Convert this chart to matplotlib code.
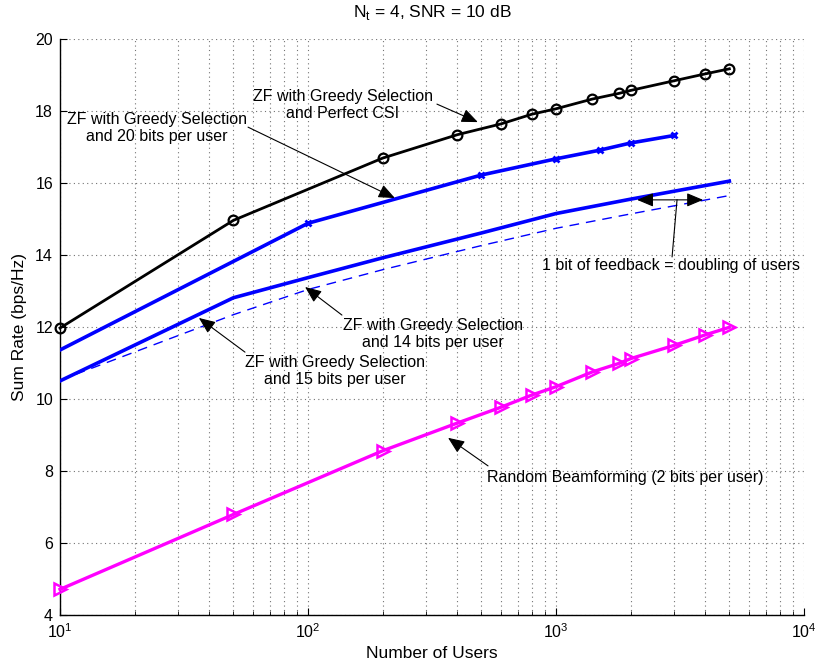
import numpy as np
import matplotlib
matplotlib.use("Agg")
import matplotlib.pyplot as plt
from matplotlib.ticker import LogLocator, FixedLocator, NullFormatter

plt.rcParams['font.family'] = ['Liberation Sans', 'DejaVu Sans']
plt.rcParams['mathtext.fontset'] = 'custom'
plt.rcParams['mathtext.rm'] = 'Liberation Sans'

# Number of users for each curve
users_full = [10, 50, 200, 400, 600, 800, 1000, 1400, 1800, 2000, 3000, 4000, 5000]
users_20 = [10, 100, 500, 1000, 1500, 2000, 3000]
users_fb = [10, 50, 100, 200, 500, 1000, 2000, 5000]

# Sum rates (bps/Hz)
rate_perfect_csi = [11.98, 14.97, 16.70, 17.35, 17.65, 17.92, 18.07, 18.34, 18.50, 18.58, 18.85, 19.04, 19.18]
rate_20_bits = [11.37, 14.89, 16.23, 16.68, 16.92, 17.12, 17.33]
rate_15_bits = [10.51, 12.82, 13.38, 13.93, 14.62, 15.16, 15.56, 16.06]
rate_14_bits = [10.53, 12.35, 13.05, 13.60, 14.27, 14.75, 15.15, 15.66]
rate_random_bf = [4.72, 6.80, 8.57, 9.34, 9.78, 10.12, 10.35, 10.76, 11.00, 11.13, 11.50, 11.79, 12.00]

fig = plt.figure(figsize=(8.2, 6.72), dpi=100)
ax = fig.add_axes([0.0732, 0.0844, 0.9073, 0.8571])

ax.semilogx(users_full, rate_perfect_csi, color='k', lw=2.0, marker='o',
            ms=7, mfc='none', mew=1.6, clip_on=False, zorder=5)
ax.semilogx(users_20, rate_20_bits, color='#0000ff', lw=2.6, marker='x',
            ms=5, mew=2.0, markevery=slice(1, None), zorder=4)
ax.semilogx(users_fb, rate_15_bits, color='#0000ff', lw=2.6, zorder=4)
ax.semilogx(users_fb, rate_14_bits, color='#0000ff', lw=1.0, ls=(0, (7, 5)), zorder=4)
ax.semilogx(users_full, rate_random_bf, color='#ff00ff', lw=2.4, marker='>',
            ms=8, mfc='none', mew=1.8, clip_on=False, zorder=5)

ax.set_xlim(10, 1e4)
ax.set_ylim(4, 20)
ax.yaxis.set_major_locator(FixedLocator(np.arange(4, 21, 2)))
ax.xaxis.set_major_locator(LogLocator(base=10))
ax.xaxis.set_minor_locator(LogLocator(base=10, subs=np.arange(2, 10)))
ax.xaxis.set_minor_formatter(NullFormatter())

ax.grid(True, which='major', axis='both', ls=(0, (1, 3)), color='0.45', lw=0.8)
ax.grid(True, which='minor', axis='x', ls=(0, (1, 3)), color='0.45', lw=0.8)

for side in ('top', 'right'):
    ax.spines[side].set_visible(False)
ax.spines['left'].set_linewidth(1.0)
ax.spines['bottom'].set_linewidth(1.0)
ax.tick_params(which='both', direction='in', labelsize=11.5, pad=5)
ax.tick_params(which='major', length=5)
ax.tick_params(which='minor', length=3)

ax.set_xlabel('Number of Users', fontsize=12.5, labelpad=4)
ax.set_ylabel('Sum Rate (bps/Hz)', fontsize=12.5, labelpad=6)
ax.set_title(r'N$_\mathrm{t}$ = 4, SNR = 10 dB', fontsize=12.5, pad=16)

txt_kw = dict(fontsize=11.5, ha='center', va='center', linespacing=1.15)
arrow_kw = dict(arrowstyle='-|>,head_length=1.0,head_width=0.42', color='k',
                lw=0.8, shrinkA=0, shrinkB=0)


def pointer(tail, head):
    ax.annotate('', xy=head, xytext=tail, arrowprops=arrow_kw, zorder=6)


ax.text(138, 18.17, 'ZF with Greedy Selection\nand Perfect CSI', **txt_kw)
pointer((331, 18.20), (484, 17.70))

ax.text(24.6, 17.54, 'ZF with Greedy Selection\nand 20 bits per user', **txt_kw)
pointer((57.3, 17.56), (224, 15.59))

ax.text(319, 11.81, 'ZF with Greedy Selection\nand 14 bits per user', **txt_kw)
pointer((137, 12.34), (97.3, 13.12))

ax.text(128.5, 10.79, 'ZF with Greedy Selection\nand 15 bits per user', **txt_kw)
pointer((55.7, 11.31), (36.3, 12.26))

ax.text(1897, 7.84, 'Random Beamforming (2 bits per user)', **txt_kw)
pointer((532, 8.15), (367, 8.93))

ax.text(2909, 13.73, '1 bit of feedback = doubling of users', **txt_kw)
ax.annotate('', xy=(2123, 15.54), xytext=(3917, 15.54),
            arrowprops=dict(arrowstyle='<|-|>,head_length=1.0,head_width=0.42',
                            color='k', lw=0.8, shrinkA=0, shrinkB=0), zorder=6)
ax.plot([3076, 2938], [15.54, 13.96], color='k', lw=0.8, zorder=6)

fig.savefig('out.png', dpi=100)
